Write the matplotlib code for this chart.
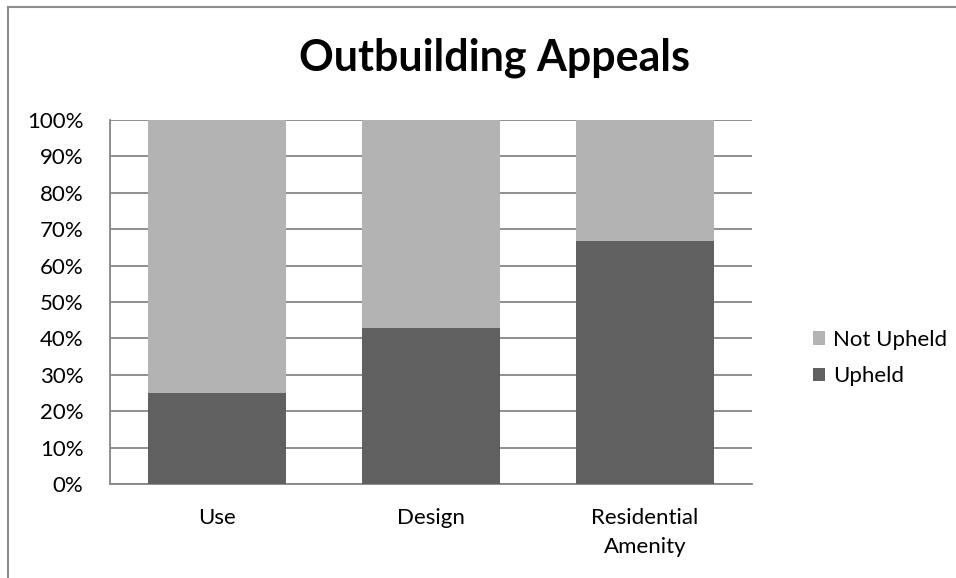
import matplotlib.pyplot as plt
import numpy as np
from matplotlib.lines import Line2D
from matplotlib.ticker import PercentFormatter

plt.rcParams['font.family'] = ['Lato', 'DejaVu Sans']

categories = ['Use', 'Design', 'Residential\nAmenity']
upheld = [25.0, 42.9, 66.7]
not_upheld = [75.0, 57.1, 33.3]

dark = '#606060'
light = '#b3b3b3'
grid_col = '#868686'

fig = plt.figure(figsize=(9.56, 5.78), dpi=100)
ax = fig.add_axes([110 / 956, 1 - 484 / 578, 642 / 956, 364 / 578])

x = np.arange(len(categories))
ax.bar(x, upheld, width=0.645, color=dark, label='Upheld', zorder=3)
ax.bar(x, not_upheld, width=0.645, bottom=upheld, color=light, label='Not Upheld', zorder=3)

ax.set_xlim(-0.5, len(categories) - 0.5)
ax.set_ylim(0, 100)
ax.set_yticks(np.arange(0, 101, 10))
ax.yaxis.set_major_formatter(PercentFormatter(decimals=0))
ax.set_xticks(x)
ax.set_xticklabels(categories, fontsize=16, linespacing=1.6)
ax.tick_params(axis='y', length=0, pad=19, labelsize=16)
ax.tick_params(axis='x', length=0, pad=17)

ax.yaxis.grid(True, color=grid_col, linewidth=1.3, zorder=0)
for side in ['top', 'right']:
    ax.spines[side].set_visible(False)
for side in ['left', 'bottom']:
    ax.spines[side].set_color(grid_col)
    ax.spines[side].set_linewidth(1.3)

fig.text(494 / 956, 1 - 58 / 578, 'Outbuilding Appeals', ha='center', va='center',
         fontsize=31, fontweight='bold')

handles, labels = ax.get_legend_handles_labels()
fig.legend(handles[::-1], labels[::-1], loc='center left',
           bbox_to_anchor=(793 / 956, 1 - 358 / 578), frameon=False,
           fontsize=16, handlelength=0.55, handleheight=0.55, handletextpad=0.35,
           labelspacing=0.75)

# chart frame
fig.add_artist(Line2D([8 / 956, 1], [1 - 7 / 578] * 2, color='#8c8c8c', lw=1.5))
fig.add_artist(Line2D([8 / 956] * 2, [0, 1 - 7 / 578], color='#8c8c8c', lw=1.5))

fig.savefig('out.png', dpi=100)
